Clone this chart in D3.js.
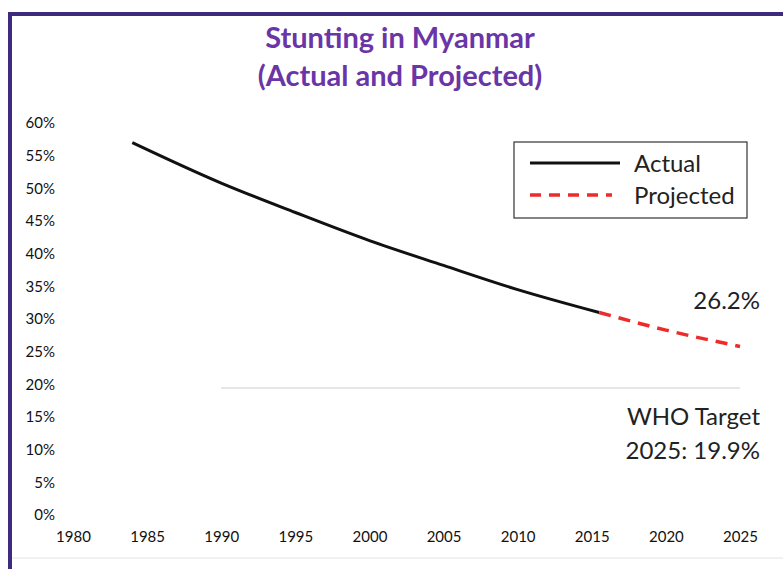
<!DOCTYPE html>
<html lang="en">
  <head>
    <meta charset="utf-8">
    <script src="https://cdn.jsdelivr.net/npm/d3@7"></script>
    <style>
      body { margin: 0; background: #fff; }
      svg { display: block; font-family: Lato, "Open Sans", sans-serif; }
    </style>
  </head>
  <body>
  <script>
    // data
    var actualYears = [1984, 1990, 1995, 2000, 2005, 2010, 2015.5];
    var actualValues = [57.0, 50.8, 46.3, 42.0, 38.2, 34.5, 31.0];
    var projYears = [2015.5, 2020, 2025];
    var projValues = [31.0, 28.3, 25.8];
    var xTicks = [1980, 1985, 1990, 1995, 2000, 2005, 2010, 2015, 2020, 2025];
    var yTicks = [0, 5, 10, 15, 20, 25, 30, 35, 40, 45, 50, 55, 60];
    var whoTarget = 19.9;
    var targetYears = [1990, 2025];

    var W = 783, H = 569;
    var svg = d3.select("body").append("svg")
      .attr("width", W).attr("height", H);

    // frame
    svg.append("rect").attr("x", 0).attr("y", 0).attr("width", W).attr("height", H).attr("fill", "#fff");
    svg.append("rect").attr("x", 10).attr("y", 13).attr("width", W).attr("height", 545)
      .attr("fill", "none").attr("stroke", "#e4e4e4").attr("stroke-width", 1);
    svg.append("line").attr("x1", 10).attr("x2", 10).attr("y1", 12).attr("y2", H)
      .attr("stroke", "#3e2b7e").attr("stroke-width", 4);
    svg.append("line").attr("x1", 8).attr("x2", W).attr("y1", 14).attr("y2", 14)
      .attr("stroke", "#3e2b7e").attr("stroke-width", 4);

    var x = d3.scaleLinear().domain([1980, 2025]).range([73, 740]);
    var y = d3.scaleLinear().domain([0, 60]).range([515, 123]);

    // title
    var title = svg.append("text").attr("x", 400).attr("text-anchor", "middle")
      .attr("fill", "#6a35a6").attr("font-weight", "bold").attr("font-size", 29);
    title.append("tspan").attr("x", 400).attr("y", 48).text("Stunting in Myanmar");
    title.append("tspan").attr("x", 400).attr("y", 86).text("(Actual and Projected)");

    // axes (labels only, no lines)
    var yAxis = svg.append("g").attr("transform", "translate(62,0)")
      .call(d3.axisLeft(y).tickValues(yTicks).tickFormat(function(d){ return d + "%"; }).tickSize(0).tickPadding(7));
    var xAxis = svg.append("g").attr("transform", "translate(0,528)")
      .call(d3.axisBottom(x).tickValues(xTicks).tickFormat(d3.format("d")).tickSize(0).tickPadding(3));
    [yAxis, xAxis].forEach(function(a){
      a.select(".domain").remove();
      a.selectAll("text").attr("fill", "#111").style("font-size", "15px")
        .style("font-family", "Lato, 'Open Sans', sans-serif");
    });

    // WHO target line
    svg.append("line")
      .attr("x1", x(targetYears[0])).attr("x2", x(targetYears[1]))
      .attr("y1", y(whoTarget) + 3).attr("y2", y(whoTarget) + 3)
      .attr("stroke", "#e6e6e6").attr("stroke-width", 2);

    var line = d3.line().x(function(d){ return x(d[0]); }).y(function(d){ return y(d[1]); })
      .curve(d3.curveMonotoneX);

    svg.append("path").datum(d3.zip(actualYears, actualValues))
      .attr("d", line).attr("fill", "none").attr("stroke", "#111").attr("stroke-width", 3);
    svg.append("path").datum(d3.zip(projYears, projValues))
      .attr("d", line).attr("fill", "none").attr("stroke", "#ee2b2b").attr("stroke-width", 3.5)
      .attr("stroke-dasharray", "12,8");

    // legend
    var lg = svg.append("g");
    lg.append("rect").attr("x", 514).attr("y", 142).attr("width", 233).attr("height", 76)
      .attr("fill", "#fff").attr("stroke", "#333").attr("stroke-width", 1.2);
    lg.append("line").attr("x1", 530).attr("x2", 620).attr("y1", 163).attr("y2", 163)
      .attr("stroke", "#111").attr("stroke-width", 3);
    lg.append("line").attr("x1", 530).attr("x2", 612).attr("y1", 195).attr("y2", 195)
      .attr("stroke", "#ee2b2b").attr("stroke-width", 3.5).attr("stroke-dasharray", "11,8");
    lg.append("text").attr("x", 634).attr("y", 172).attr("font-size", 24).attr("fill", "#222").text("Actual");
    lg.append("text").attr("x", 634).attr("y", 204).attr("font-size", 24).attr("fill", "#222").text("Projected");

    // annotations
    svg.append("text").attr("x", 760).attr("y", 309).attr("text-anchor", "end")
      .attr("font-size", 24).attr("fill", "#222").text("26.2%");
    var who = svg.append("text").attr("text-anchor", "end").attr("font-size", 24).attr("fill", "#222");
    who.append("tspan").attr("x", 760).attr("y", 425).text("WHO Target");
    who.append("tspan").attr("x", 760).attr("y", 459).text("2025: 19.9%");
  </script>
  </body>
</html>
